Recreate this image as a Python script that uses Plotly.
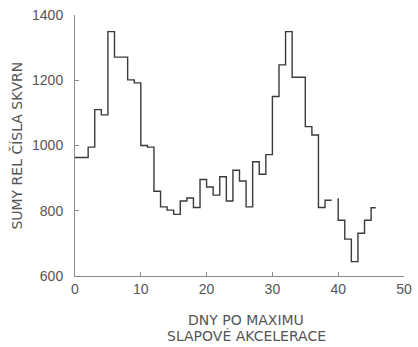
import plotly.graph_objects as go

# Data (days after max of tidal acceleration, sums of relative sunspot numbers)
days_a = [0, 2, 3, 4, 5, 6, 8, 9, 10, 11, 12, 13, 14, 15, 16, 17, 18, 19, 20, 21, 22, 23, 24, 25, 26,
          27, 28, 29, 30, 31, 32, 33, 35, 36, 37, 38]
vals_a = [963, 995, 1110, 1094, 1349, 1271, 1201, 1192, 1000, 995, 860, 812, 802, 789, 830, 839, 810,
          896, 873, 848, 904, 830, 924, 891, 812, 950, 912, 972, 1150, 1247, 1349, 1209, 1058, 1032, 810, 832]
end_a = 39
days_b = [40, 41, 42, 43, 44, 45]
vals_b = [771, 713, 644, 731, 771, 809]
start_b = 838
end_b = 45.7

x_ticks = [0, 10, 20, 30, 40, 50]
y_ticks = [600, 800, 1000, 1200, 1400]

xs = days_a + [end_a] + [None] + [days_b[0]] + days_b + [end_b]
ys = vals_a + [vals_a[-1]] + [None] + [start_b] + vals_b + [vals_b[-1]]

fig = go.Figure()
fig.add_trace(go.Scatter(x=xs, y=ys, mode="lines", line=dict(shape="hv", color="#3a3a3a", width=1.4),
                         connectgaps=False, hoverinfo="skip", showlegend=False))

axis_common = dict(showline=True, linecolor="#8a8a8a", linewidth=1, ticks="inside", ticklen=4,
                   tickcolor="#8a8a8a", showgrid=False, zeroline=False, automargin=False,
                   tickfont=dict(family="Liberation Sans", size=14, color="#555555"))

title_font = dict(family="DejaVu Sans", size=14, color="#555555")

fig.update_layout(
    width=418, height=347,
    margin=dict(l=75, r=14, t=15, b=71, autoexpand=False),
    plot_bgcolor="white", paper_bgcolor="white",
    xaxis=dict(range=[0, 50], tickvals=x_ticks, **axis_common),
    yaxis=dict(range=[600, 1400], tickvals=y_ticks, ticklabelstandoff=8, **axis_common),
    annotations=[
        dict(text="SUMY REL ČÍSLA SKVRN", xref="paper", yref="paper", x=-0.179, y=0.5,
             textangle=-90, showarrow=False, xanchor="center", yanchor="middle", font=title_font),
        dict(text="DNY PO MAXIMU", xref="paper", yref="paper", x=0.52, y=-0.169,
             showarrow=False, xanchor="center", yanchor="middle", font=title_font),
        dict(text="SLAPOVÉ AKCELERACE", xref="paper", yref="paper", x=0.52, y=-0.23,
             showarrow=False, xanchor="center", yanchor="middle", font=title_font),
    ],
)

fig.write_html("out.html", config={"displayModeBar": False},
               post_script="document.body.style.margin='0';document.body.style.overflow='hidden';")
